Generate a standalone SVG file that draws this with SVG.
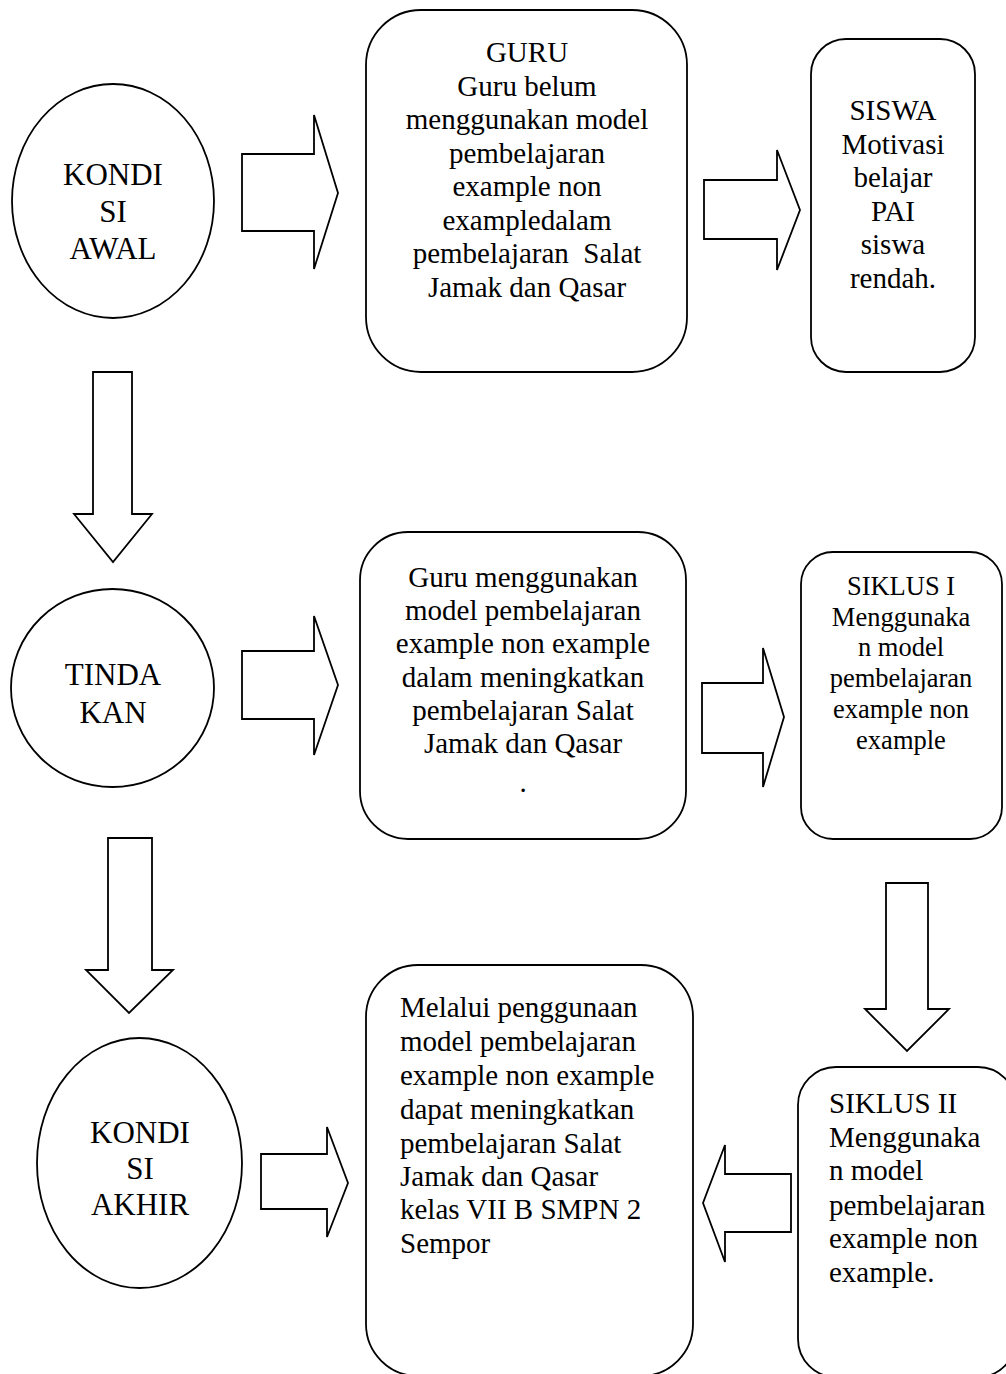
<svg xmlns="http://www.w3.org/2000/svg" width="1006" height="1374" viewBox="0 0 1006 1374">
<style>
.shape{fill:#fff;stroke:#000;stroke-width:1.8;stroke-linejoin:miter}
.arrow{fill:#fff;stroke:#000;stroke-width:1.8;stroke-linejoin:miter}
text{font-family:"Liberation Serif","Times New Roman",serif;fill:#000}
.big{font-size:31px;text-anchor:middle}
.box{font-size:29px}
.mid{text-anchor:middle}
.sm{font-size:26.5px;text-anchor:middle}
</style>
<rect width="1006" height="1374" fill="#fff"/>
<g id="connectors">
<polygon class="arrow" points="242,154 314,154 314,115 338,193 314,269 314,231 242,231"/>
<polygon class="arrow" points="704,180 777,180 777,150 800,210 777,270 777,239 704,239"/>
<polygon class="arrow" points="93,372 132,372 132,514 152,514 113,562 74,514 93,514"/>
<polygon class="arrow" points="242,651 314,651 314,616 338,685 314,755 314,719 242,719"/>
<polygon class="arrow" points="702,683 763,683 763,648 784,717 763,787 763,753 702,753"/>
<polygon class="arrow" points="108,838 152,838 152,970 173,970 129,1013 86,970 108,970"/>
<polygon class="arrow" points="886,883 928,883 928,1009 949,1009 907,1051 865,1009 886,1009"/>
<polygon class="arrow" points="791,1174 725,1174 725,1145 703,1203 725,1262 725,1232 791,1232"/>
<polygon class="arrow" points="261,1154 327,1154 327,1127 348,1183 327,1237 327,1209 261,1209"/>
</g>
<g id="kondisi-awal">
<ellipse class="shape" cx="113" cy="201" rx="101" ry="117"/>
<text class="big" x="113" y="185">KONDI</text>
<text class="big" x="113" y="222">SI</text>
<text class="big" x="113" y="259">AWAL</text>
</g>
<g id="guru">
<rect class="shape" x="366" y="10" width="321" height="362" rx="55" ry="55"/>
<text class="box mid" x="527" y="62">GURU</text>
<text class="box mid" x="527" y="95.5">Guru belum</text>
<text class="box mid" x="527" y="129">menggunakan model</text>
<text class="box mid" x="527" y="162.5">pembelajaran</text>
<text class="box mid" x="527" y="196">example non</text>
<text class="box mid" x="527" y="229.5">exampledalam</text>
<text class="box mid" x="527" y="263" xml:space="preserve">pembelajaran  Salat</text>
<text class="box mid" x="527" y="296.5">Jamak dan Qasar</text>
</g>
<g id="siswa">
<rect class="shape" x="811" y="39" width="164" height="333" rx="35" ry="35"/>
<text class="box mid" x="893" y="120">SISWA</text>
<text class="box mid" x="893" y="153.5">Motivasi</text>
<text class="box mid" x="893" y="187">belajar</text>
<text class="box mid" x="893" y="220.5">PAI</text>
<text class="box mid" x="893" y="254">siswa</text>
<text class="box mid" x="893" y="288">rendah.</text>
</g>
<g id="tindakan">
<ellipse class="shape" cx="112.5" cy="688" rx="101.5" ry="99"/>
<text class="big" x="113" y="685">TINDA</text>
<text class="big" x="113" y="723">KAN</text>
</g>
<g id="guru-menggunakan">
<rect class="shape" x="360" y="532" width="326" height="307" rx="48" ry="48"/>
<text class="box mid" x="523" y="587">Guru menggunakan</text>
<text class="box mid" x="523" y="620">model pembelajaran</text>
<text class="box mid" x="523" y="653">example non example</text>
<text class="box mid" x="523" y="686.5">dalam meningkatkan</text>
<text class="box mid" x="523" y="720">pembelajaran Salat</text>
<text class="box mid" x="523" y="753">Jamak dan Qasar</text>
<text class="box mid" x="523" y="792">.</text>
</g>
<g id="siklus-1">
<rect class="shape" x="801" y="552" width="201" height="287" rx="32" ry="32"/>
<text class="sm" x="901" y="595">SIKLUS I</text>
<text class="sm" x="901" y="626">Menggunaka</text>
<text class="sm" x="901" y="656">n model</text>
<text class="sm" x="901" y="687">pembelajaran</text>
<text class="sm" x="901" y="718">example non</text>
<text class="sm" x="901" y="749">example</text>
</g>
<g id="kondisi-akhir">
<ellipse class="shape" cx="139.5" cy="1163" rx="102.5" ry="125"/>
<text class="big" x="140" y="1143">KONDI</text>
<text class="big" x="140" y="1179">SI</text>
<text class="big" x="140" y="1215">AKHIR</text>
</g>
<g id="hasil">
<rect class="shape" x="366" y="965" width="327" height="411" rx="52" ry="52"/>
<text class="box" x="400" y="1017">Melalui penggunaan</text>
<text class="box" x="400" y="1051">model pembelajaran</text>
<text class="box" x="400" y="1085">example non example</text>
<text class="box" x="400" y="1119">dapat meningkatkan</text>
<text class="box" x="400" y="1153">pembelajaran Salat</text>
<text class="box" x="400" y="1186">Jamak dan Qasar</text>
<text class="box" x="400" y="1219">kelas VII B SMPN 2</text>
<text class="box" x="400" y="1253">Sempor</text>
</g>
<g id="siklus-2">
<rect class="shape" x="798" y="1067" width="218" height="310" rx="38" ry="38"/>
<text class="box" x="829" y="1113">SIKLUS II</text>
<text class="box" x="829" y="1147">Menggunaka</text>
<text class="box" x="829" y="1180">n model</text>
<text class="box" x="829" y="1215">pembelajaran</text>
<text class="box" x="829" y="1248">example non</text>
<text class="box" x="829" y="1282">example.</text>
</g>
</svg>
